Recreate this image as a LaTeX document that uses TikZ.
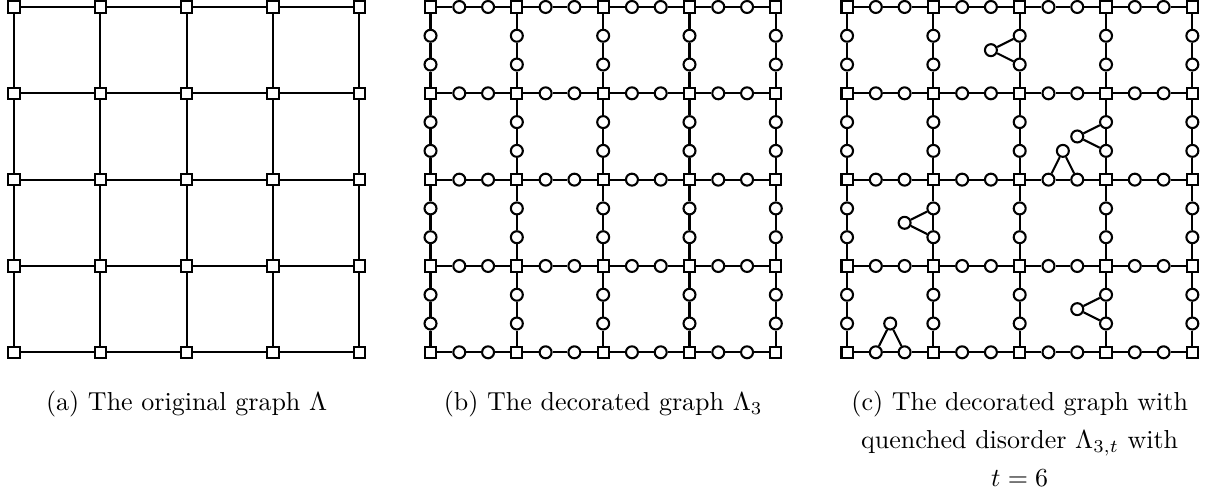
\documentclass[tikz,border=0pt]{standalone}
\usepackage{amsmath,amssymb}
\usepackage{tikz}
\usetikzlibrary{positioning}

\tikzset{
  orig/.style={draw, rectangle, fill=white, minimum size=4.3pt, inner sep=0pt, line width=0.8pt},
  deco/.style={draw, circle, fill=white, minimum size=4.6pt, inner sep=0pt, line width=0.8pt},
  bond/.style={line width=0.8pt},
  capt/.style={anchor=north, inner sep=0pt, font=\normalsize}
}

\begin{document}
\begin{tikzpicture}[x=1.1673cm, y=1.1673cm]
\useasboundingbox (-0.162,-1.575) rectangle (13.866,4.081);
% (a) original lattice
\foreach \i in {0,...,4}
  \foreach \j in {0,...,4}
    \node[orig] (a-\i-\j) at (\i,\j) {};
\foreach \i in {0,...,4}
  \foreach \j [count=\k] in {0,...,3}
    {\draw[bond] (a-\i-\j) -- (a-\i-\k); \draw[bond] (a-\j-\i) -- (a-\k-\i);}

% (b) and (c) decorated lattices
\foreach \p/\x in {b/4.825, c/9.65} {
  \foreach \i in {0,...,4}
    \foreach \j in {0,...,4}
      \node[orig] (\p-\i-\j) at (\x+\i,\j) {};
  \foreach \i in {0,...,3}
    \foreach \j in {0,...,4} {
      \node[deco] (\p-h\i-\j-1) at (\x+\i+1/3,\j) {};
      \node[deco] (\p-h\i-\j-2) at (\x+\i+2/3,\j) {};
      \node[deco] (\p-v\j-\i-1) at (\x+\j,\i+1/3) {};
      \node[deco] (\p-v\j-\i-2) at (\x+\j,\i+2/3) {};
    }
  \foreach \i in {0,...,4}
    \foreach \j [count=\k] in {0,...,3} {
      \draw[bond] (\p-\j-\i) -- (\p-h\j-\i-1) -- (\p-h\j-\i-2) -- (\p-\k-\i);
      \draw[bond] (\p-\i-\j) -- (\p-v\i-\j-1) -- (\p-v\i-\j-2) -- (\p-\i-\k);
    }
}

% quenched disorder: t = 6 extra triangles
\foreach \e/\dx/\dy [count=\n] in {v2-3/-1/0, v3-2/-1/0, h2-2/0/1, v1-1/-1/0, v3-0/-1/0, h0-0/0/1} {
  \path (c-\e-1) -- (c-\e-2) coordinate[midway] (c-m\n);
  \node[deco] (c-t\n) at ([shift={(\dx/3,\dy/3)}]c-m\n) {};
  \draw[bond] (c-\e-1) -- (c-t\n) -- (c-\e-2);
}

% captions
\node[capt] (cap-a) at (2,-0.44) {(a) The original graph $\Lambda$};
\node[capt] (cap-b) at (6.825,-0.44) {(b) The decorated graph $\Lambda_3$};
\node[capt, text width=134pt] (cap-c) at (11.65,-0.44)
  {\baselineskip=14.6pt\centering (c) The decorated graph with quenched disorder $\Lambda_{3,t}$ with $t=6$\par};
\end{tikzpicture}
\end{document}
